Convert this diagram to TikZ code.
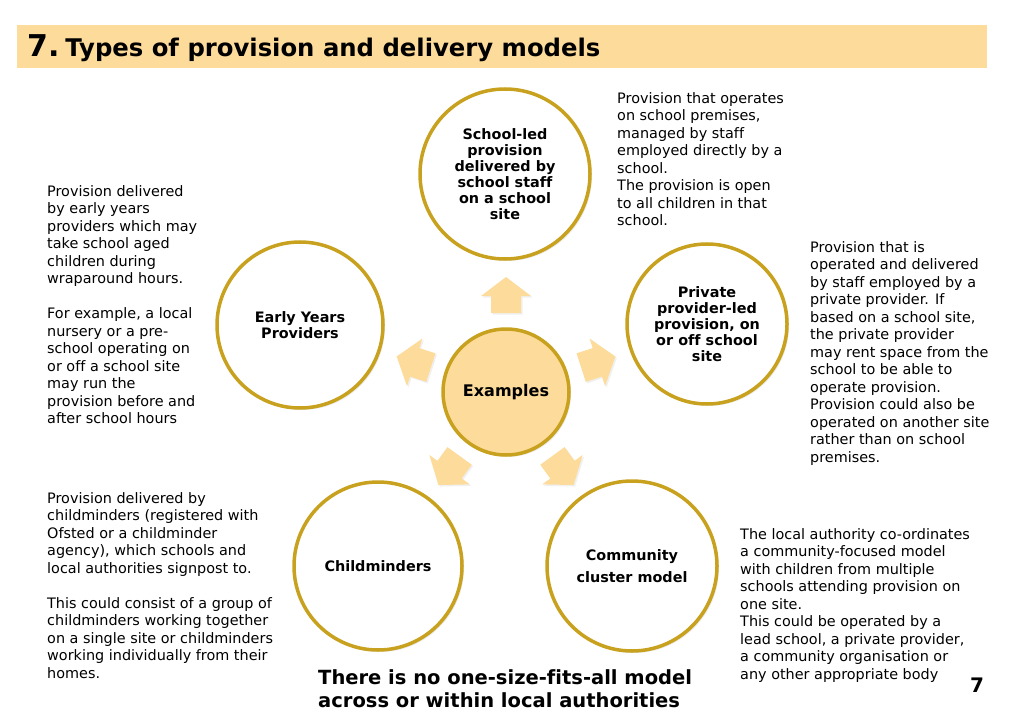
\documentclass[tikz,border=0pt]{standalone}
\usepackage{fontspec}
\setmainfont[Ligatures=NoCommon]{DejaVu Sans}
\usetikzlibrary{positioning,shadows}
\definecolor{bannerfill}{HTML}{FDDB9A}
\definecolor{ringgold}{HTML}{C8A11E}
\colorlet{hubfill}{bannerfill}
\colorlet{arrowfill}{bannerfill}

\begin{document}
\begin{tikzpicture}[x=1pt, y=1pt,
    ring/.style={circle, draw=ringgold, line width=3.5pt, fill=white, align=center,
                 font=\fontsize{14.4}{16}\selectfont\bfseries, inner sep=0pt,
                 drop shadow={opacity=0.15, shadow xshift=2pt, shadow yshift=-2pt}},
    hub/.style={ring, fill=hubfill, font=\fontsize{16}{18}\selectfont\bfseries},
    body/.style={anchor=north west, align=left, inner sep=0pt,
                 font=\fontsize{14.4}{17.5}\selectfont},
    blockarr/.style={fill=arrowfill,
                 drop shadow={opacity=0.12, shadow xshift=1.5pt, shadow yshift=-1.5pt}},
  ]
  \useasboundingbox (0,0) rectangle (1024,724);

  % banner
  \fill[bannerfill] (17,656) rectangle (987,699);
  \node[anchor=base west, inner sep=0pt] (title) at (27,667)
    {{\fontsize{30}{30}\selectfont\bfseries 7.}\hspace{6pt}{\fontsize{24.3}{24}\selectfont\bfseries Types of provision and delivery models}};

  % hub and the five models
  \node[hub, minimum size=126pt] (examples) at (506,332) {Examples};
  \node[ring, minimum size=170pt] (school) at (505,550)
    {School-led\\provision\\delivered by\\school staff\\on a school\\site};
  \node[ring, minimum size=166pt] (early) at (300,399) {Early Years\\Providers};
  \node[ring, minimum size=160pt] (private) at (707,400)
    {Private\\provider-led\\provision, on\\or off school\\site};
  \node[ring, minimum size=168pt] (minders) at (378,158) {Childminders};
  \node[ring, minimum size=170pt] (community) at (632,158)
    {Community\\[6pt]cluster model};

  \foreach \ang in {18,90,162,234,306} {
    \begin{scope}[shift={(examples.center)}, rotate=\ang]
      \path[blockarr] (79,-15) -- (96,-15) -- (96,-25) -- (115,0)
        -- (96,25) -- (96,15) -- (79,15) -- cycle;
    \end{scope}
  }

  % descriptions
  \node[body] (schooltxt) at (617,632)
    {Provision that operates\\on school premises,\\managed by staff\\employed directly by a\\school.\\The provision is open\\to all children in that\\school.};
  \node[body] (earlytxt) at (47,539)
    {Provision delivered\\by early years\\providers which may\\take school aged\\children during\\wraparound hours.\\[17.5pt]
     For example, a local\\nursery or a pre-\\school operating on\\or off a school site\\may run the\\provision before and\\after school hours};
  \node[body] (privtxt) at (810,483)
    {Provision that is\\operated and delivered\\by staff employed by a\\private provider. If\\based on a school site,\\the private provider\\may rent space from the\\school to be able to\\operate provision.\\Provision could also be\\operated on another site\\rather than on school\\premises.};
  \node[body] (minderstxt) at (47,232)
    {Provision delivered by\\childminders (registered with\\Ofsted or a childminder\\agency), which schools and\\local authorities signpost to.\\[17.5pt]
     This could consist of a group of\\childminders working together\\on a single site or childminders\\working individually from their\\homes.};
  \node[body] (commtxt) at (740,196)
    {The local authority co-ordinates\\a community-focused model\\with children from multiple\\schools attending provision on\\one site.\\This could be operated by a\\lead school, a private provider,\\a community organisation or\\any other appropriate body};

  \node[anchor=north west, align=left, inner sep=0pt,
        font=\fontsize{19.5}{23}\selectfont\bfseries] (note) at (318,55)
    {There is no one-size-fits-all model\\across or within local authorities};
  \node[font=\fontsize{20}{20}\selectfont\bfseries] (pagenum) at (977,39) {7};
\end{tikzpicture}
\end{document}
